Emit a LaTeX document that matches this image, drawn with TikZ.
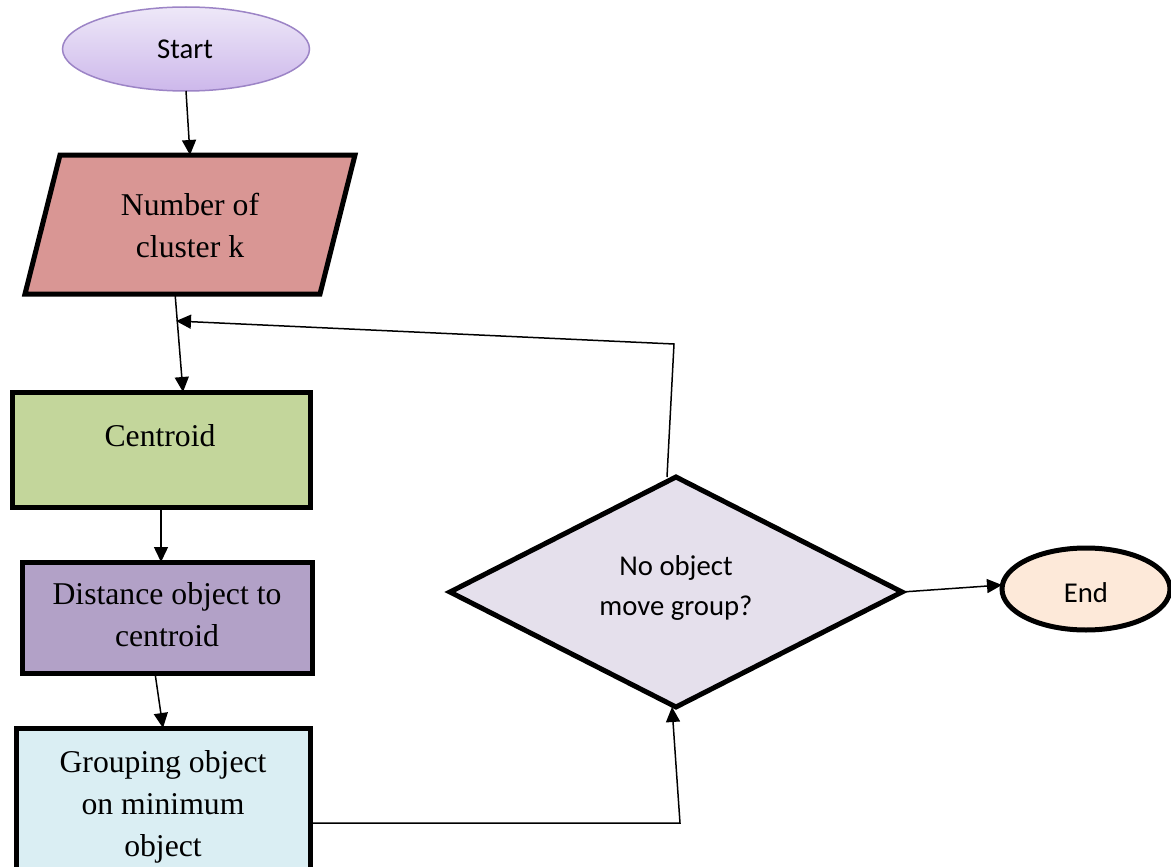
\documentclass[tikz,border=0pt]{standalone}
\usepackage{fontspec}
\setmainfont{Liberation Serif}
\newfontfamily\calfont{Carlito}
\usetikzlibrary{shapes.geometric,arrows.meta}
\definecolor{startTop}{HTML}{EEE8F8}
\definecolor{startBot}{HTML}{CDB8EB}
\definecolor{startBorder}{HTML}{9C84C6}
\definecolor{paraC}{HTML}{D99694}
\definecolor{centC}{HTML}{C3D69B}
\definecolor{distC}{HTML}{B2A1C7}
\definecolor{grpC}{HTML}{DAEEF3}
\definecolor{diaC}{HTML}{E5E0EC}
\definecolor{endC}{HTML}{FDE9D9}
\begin{document}
\begin{tikzpicture}[x=1pt,y=-1pt,
  every node/.style={outer sep=0pt, inner sep=0pt},
  thickbox/.style={draw=black, line width=5pt, line join=miter},
  arr/.style={draw=black, line width=1.5pt, -{Triangle[length=15pt,width=14pt]}},
  sertext/.style={font=\fontsize{31.7}{42}\selectfont, align=center, anchor=base},
  caltext/.style={font=\calfont\fontsize{28.7}{40}\selectfont, align=center, anchor=base}]
\useasboundingbox (0,0) rectangle (1171,867);
\clip (0,0) rectangle (1171,867);
\fill[white] (0,0) rectangle (1171,867);

% shapes
\node[ellipse, draw=startBorder, line width=1.5pt, top color=startTop, bottom color=startBot,
      minimum width=247pt, minimum height=84pt] (start) at (186,49) {};
% parallelogram (input)
\coordinate (paraTL) at (60,155);
\coordinate (paraTR) at (355,155);
\coordinate (paraBR) at (320,294);
\coordinate (paraBL) at (25,294);
\draw[thickbox, fill=paraC] (paraTL) -- (paraTR) -- (paraBR) -- (paraBL) -- cycle;
\coordinate (paratop) at (190,155);
\coordinate (parabot) at (175,293);
\node[rectangle, thickbox, fill=centC, minimum width=298pt, minimum height=115pt] (centroid) at (161,449.5) {};
\node[rectangle, thickbox, fill=distC, minimum width=290pt, minimum height=111pt] (distance) at (167,617.5) {};
\node[rectangle, thickbox, fill=grpC, minimum width=294pt, minimum height=190pt] (grouping) at (163,823) {};
\node[diamond, thickbox, fill=diaC, minimum width=452pt, minimum height=230pt] (dia) at (676,592) {};
\node[ellipse, thickbox, fill=endC, minimum width=168pt, minimum height=82pt] (endn) at (1086,589) {};

% texts
\node[caltext] (starttext) at (185,59) {Start};
\node[sertext] (para) at (190,257) {Number of\\cluster k};
\node[sertext] (centtext) at (160,446) {Centroid};
\node[sertext] (disttext) at (167,646) {Distance object to\\centroid};
\node[sertext] (grptext) at (163,856) {Grouping object\\on minimum\\object};
\node[caltext] (diatext) at (676,615) {No object\\move group?};
\node[caltext] (endtext) at (1086,602) {End};

% connectors
\coordinate (fb) at (176,321);
\coordinate (fbturn) at (674,344);
\coordinate (grturn) at (680,823);
\draw[arr] (start.south) -- (paratop);
\draw[arr] (parabot) -- ([xshift=22pt]centroid.north);
\draw[arr] ([xshift=-9pt]dia.north) -- (fbturn) -- (fb);
\draw[arr] (centroid.south) -- ([xshift=-6pt]distance.north);
\draw[arr] ([xshift=-12pt]distance.south) -- (grouping.north);
\draw[arr] (grouping.east) -- (grturn) -- ([xshift=-4pt]dia.south);
\draw[arr] (dia.east) -- ([yshift=4pt]endn.west);
\end{tikzpicture}
\end{document}
